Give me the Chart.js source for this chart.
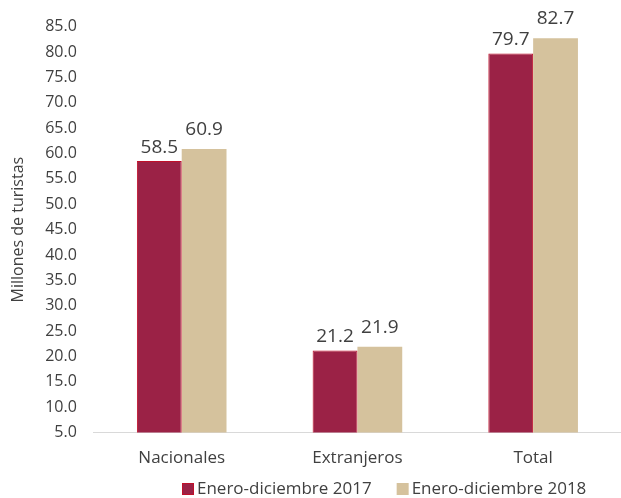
<!DOCTYPE html>
<html>
<head>
<meta charset="utf-8">
<script src="https://cdn.jsdelivr.net/npm/chart.js@4/dist/chart.umd.min.js"></script>
<style>
  html, body { margin: 0; padding: 0; background: #fff; }
  #wrap { width: 621px; height: 498px; }
</style>
</head>
<body>
<div id="wrap"><canvas id="chart"></canvas></div>
<script>
const categories = ["Nacionales", "Extranjeros", "Total"];
const values2017 = [58.5, 21.2, 79.7];
const values2018 = [60.9, 21.9, 82.7];
const seriesNames = ["Enero-diciembre 2017", "Enero-diciembre 2018"];
const seriesColors = ["#9B2246", "#D5C29D"];

const FONT = "'Open Sans', 'Noto Sans', sans-serif";
const TEXT = "#404040";

// value above each bar (the 2018 labels sit a little higher, as in the original)
const labelGap = [8, 14];
const barLabels = {
    id: "barLabels",
    afterDatasetsDraw(chart) {
        let ctx = chart.ctx;
        ctx.save();
        ctx.font = "19px " + FONT;
        ctx.fillStyle = TEXT;
        ctx.textAlign = "center";
        ctx.textBaseline = "alphabetic";
        chart.data.datasets.forEach((ds, i) => {
            chart.getDatasetMeta(i).data.forEach((bar, j) => {
                ctx.fillText(ds.data[j].toFixed(1), bar.x, bar.y - labelGap[i]);
            });
        });
        ctx.restore();
    }
};

// legend under the chart, set a bit right of centre like the original
const bottomLegend = {
    id: "bottomLegend",
    afterDraw(chart) {
        let ctx = chart.ctx;
        ctx.save();
        ctx.font = "17px " + FONT;
        ctx.textBaseline = "middle";
        let x = 182, y = 489;
        chart.data.datasets.forEach((ds, i) => {
            ctx.fillStyle = ds.backgroundColor;
            ctx.fillRect(x, y - 6, 12, 12);
            if (ds.borderWidth) {
                ctx.strokeStyle = ds.borderColor;
                ctx.lineWidth = 1;
                ctx.strokeRect(x + 0.5, y - 5.5, 11, 11);
            }
            ctx.fillStyle = TEXT;
            ctx.fillText(ds.label, x + 15, y);
            x += 15 + ctx.measureText(ds.label).width + 25;
        });
        ctx.restore();
    }
};

new Chart(document.getElementById("chart").getContext("2d"), {
    type: "bar",
    data: {
        labels: categories,
        datasets: [{
            label: seriesNames[0],
            data: values2017,
            backgroundColor: seriesColors[0],
            borderColor: "#C0102A",
            borderWidth: 1
        }, {
            label: seriesNames[1],
            data: values2018,
            backgroundColor: seriesColors[1],
            borderWidth: 0
        }]
    },
    options: {
        responsive: true,
        maintainAspectRatio: false,
        animation: false,
        layout: { padding: { top: 24, right: 0, left: 5, bottom: 15 } },
        datasets: {
            bar: { barPercentage: 1, categoryPercentage: 0.51 }
        },
        scales: {
            x: {
                grid: { display: false, drawTicks: false },
                border: { color: "#D9D9D9", width: 1 },
                ticks: { color: TEXT, font: { family: FONT, size: 17 }, padding: 15 }
            },
            y: {
                min: 5,
                max: 85,
                grid: { display: false, drawTicks: false },
                border: { display: false },
                title: {
                    display: true,
                    text: "Millones de turistas",
                    color: TEXT,
                    font: { family: FONT, size: 16 },
                    padding: { top: 4, bottom: 0 }
                },
                ticks: {
                    stepSize: 5,
                    color: TEXT,
                    font: { family: FONT, size: 16 },
                    padding: 17,
                    callback: v => v.toFixed(1)
                }
            }
        },
        plugins: {
            legend: { display: false },
            tooltip: { enabled: false }
        }
    },
    plugins: [barLabels, bottomLegend]
});
</script>
</body>
</html>
